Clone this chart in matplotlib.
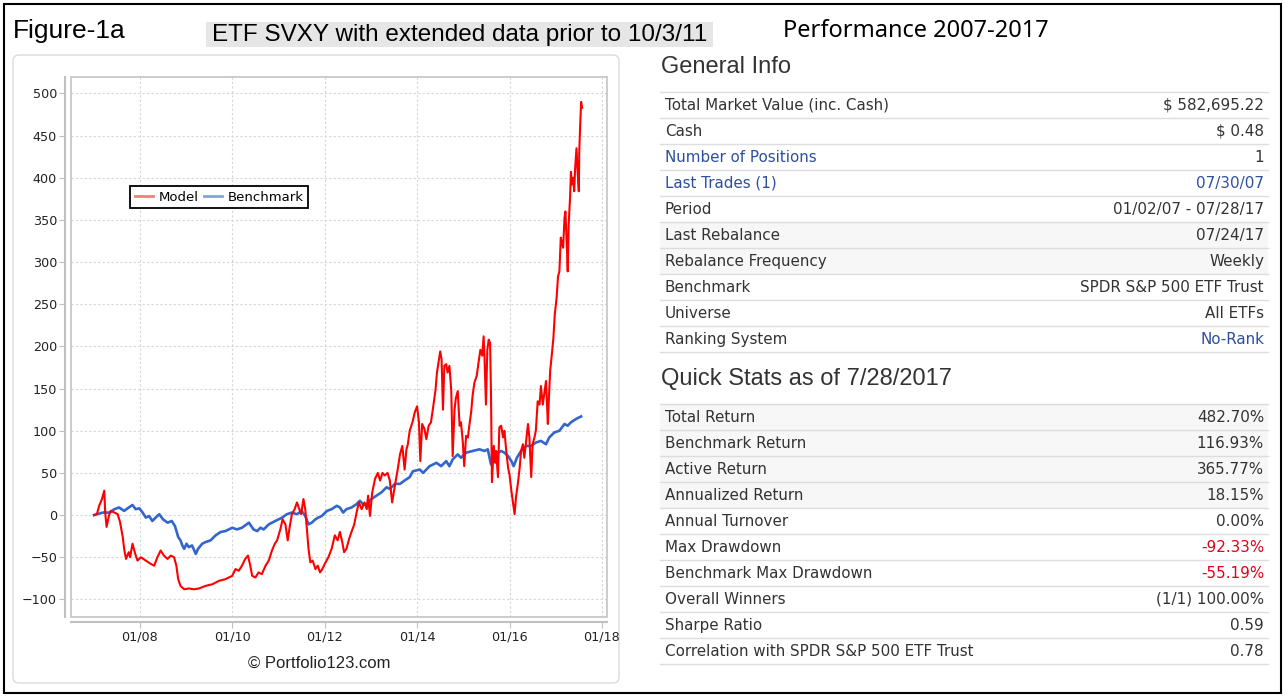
import matplotlib
matplotlib.use('Agg')
import matplotlib.pyplot as plt
from matplotlib.patches import Rectangle, FancyBboxPatch
from matplotlib.lines import Line2D

W, H = 1285, 698

#### data (decimal years, % return)
model_t = [2007.01, 2007.07, 2007.12, 2007.18, 2007.23, 2007.25, 2007.28, 2007.33, 2007.37, 2007.45,
           2007.52, 2007.57, 2007.63, 2007.66, 2007.70, 2007.76, 2007.79, 2007.84, 2007.90, 2007.95,
           2008.02, 2008.13, 2008.24, 2008.31, 2008.38, 2008.45, 2008.52, 2008.60, 2008.67, 2008.74,
           2008.79, 2008.83, 2008.88, 2008.96, 2009.06, 2009.17, 2009.28, 2009.42, 2009.57, 2009.71,
           2009.85, 2010.00, 2010.07, 2010.14, 2010.21, 2010.28, 2010.34, 2010.39, 2010.43, 2010.50,
           2010.57, 2010.64, 2010.72, 2010.79, 2010.86, 2010.92, 2010.97, 2011.04, 2011.09, 2011.15,
           2011.20, 2011.24, 2011.29, 2011.35, 2011.40, 2011.45, 2011.49, 2011.54, 2011.58, 2011.61,
           2011.65, 2011.69, 2011.74, 2011.80, 2011.85, 2011.90, 2011.95, 2012.00, 2012.08, 2012.15,
           2012.22, 2012.28, 2012.33, 2012.38, 2012.42, 2012.47, 2012.53, 2012.58, 2012.64, 2012.69,
           2012.74, 2012.80, 2012.86, 2012.91, 2012.94, 2012.98, 2013.03, 2013.09, 2013.15, 2013.20,
           2013.25, 2013.30, 2013.36, 2013.41, 2013.46, 2013.52, 2013.58, 2013.63, 2013.68, 2013.73,
           2013.77, 2013.80, 2013.84, 2013.90, 2013.95, 2014.00, 2014.04, 2014.07, 2014.11, 2014.16,
           2014.20, 2014.25, 2014.30, 2014.35, 2014.40, 2014.43, 2014.47, 2014.50, 2014.53, 2014.56,
           2014.59, 2014.63, 2014.66, 2014.70, 2014.74, 2014.77, 2014.81, 2014.84, 2014.88, 2014.92,
           2014.95, 2014.99, 2015.02, 2015.06, 2015.10, 2015.13, 2015.17, 2015.20, 2015.24, 2015.29,
           2015.33, 2015.37, 2015.41, 2015.44, 2015.46, 2015.49, 2015.52, 2015.55, 2015.58, 2015.60,
           2015.62, 2015.66, 2015.69, 2015.71, 2015.75, 2015.78, 2015.82, 2015.86, 2015.89, 2015.93,
           2015.97, 2016.00, 2016.04, 2016.07, 2016.11, 2016.14, 2016.18, 2016.22, 2016.25, 2016.29,
           2016.32, 2016.36, 2016.40, 2016.43, 2016.47, 2016.50, 2016.54, 2016.57, 2016.61, 2016.65,
           2016.68, 2016.72, 2016.75, 2016.79, 2016.83, 2016.85, 2016.88, 2016.91, 2016.95, 2016.98,
           2017.02, 2017.05, 2017.08, 2017.11, 2017.14, 2017.16, 2017.19, 2017.21, 2017.24, 2017.26,
           2017.28, 2017.31, 2017.33, 2017.35, 2017.38, 2017.40, 2017.42, 2017.45, 2017.47, 2017.50,
           2017.51, 2017.53, 2017.55, 2017.57]
model_v = [0, 1, 11, 19, 29, 3, -14, -1, 5, 3,
           1, -8, -26, -40, -52, -44, -50, -34, -46, -54,
           -50, -54, -58, -60, -50, -42, -48, -52, -48, -50,
           -60, -76, -84, -88, -87, -88, -87, -84, -82, -78,
           -76, -72, -64, -66, -60, -52, -48, -60, -72, -74,
           -68, -70, -60, -54, -42, -34, -30, -17, -5, -11,
           -30, -15, 1, 7, 15, 7, 1, 19, 7, -13,
           -40, -56, -54, -64, -60, -68, -64, -58, -50, -40,
           -24, -30, -20, -32, -44, -40, -28, -20, -11, 3,
           15, 7, 15, 7, 23, -1, 27, 43, 50, 41,
           50, 47, 50, 41, 15, 35, 54, 72, 82, 54,
           78, 84, 100, 110, 122, 129, 110, 64, 108, 102,
           90, 106, 110, 129, 149, 169, 183, 194, 185, 125,
           177, 179, 169, 177, 147, 70, 125, 139, 147, 106,
           110, 86, 58, 94, 92, 106, 122, 141, 157, 165,
           181, 196, 189, 212, 185, 131, 196, 208, 204, 141,
           39, 82, 62, 76, 45, 104, 106, 92, 100, 76,
           56, 48, 29, 17, 1, 21, 37, 56, 76, 84,
           68, 88, 108, 92, 45, 84, 92, 100, 135, 131,
           153, 131, 143, 159, 108, 135, 171, 187, 210, 238,
           258, 283, 289, 329, 321, 317, 352, 360, 321, 289,
           344, 376, 407, 392, 400, 384, 411, 435, 411, 384,
           431, 463, 490, 483]

bench_t = [2007.01, 2007.07, 2007.20, 2007.34, 2007.45, 2007.55, 2007.66, 2007.76, 2007.84, 2007.91,
           2007.99, 2008.06, 2008.13, 2008.20, 2008.27, 2008.34, 2008.42, 2008.50, 2008.60, 2008.69,
           2008.76, 2008.83, 2008.88, 2008.92, 2008.96, 2009.01, 2009.06, 2009.13, 2009.21, 2009.26,
           2009.35, 2009.42, 2009.53, 2009.64, 2009.75, 2009.85, 2010.00, 2010.10, 2010.21, 2010.36,
           2010.46, 2010.54, 2010.61, 2010.68, 2010.79, 2010.93, 2011.08, 2011.18, 2011.29, 2011.40,
           2011.50, 2011.58, 2011.65, 2011.72, 2011.80, 2011.86, 2011.94, 2012.05, 2012.15, 2012.26,
           2012.33, 2012.40, 2012.47, 2012.58, 2012.69, 2012.76, 2012.83, 2012.91, 2013.01, 2013.12,
           2013.23, 2013.34, 2013.41, 2013.52, 2013.63, 2013.73, 2013.84, 2013.91, 2014.06, 2014.13,
           2014.27, 2014.42, 2014.52, 2014.63, 2014.70, 2014.77, 2014.88, 2014.95, 2015.06, 2015.20,
           2015.35, 2015.46, 2015.53, 2015.60, 2015.67, 2015.74, 2015.82, 2015.89, 2015.97, 2016.04,
           2016.09, 2016.16, 2016.25, 2016.36, 2016.47, 2016.57, 2016.68, 2016.79, 2016.86, 2016.97,
           2017.08, 2017.19, 2017.26, 2017.33, 2017.44, 2017.55]
bench_v = [0, 1, 3, 3, 7, 9, 5, 9, 12, 7,
           8, 3, -3, -1, -7, -3, 1, -5, -9, -7,
           -13, -26, -30, -36, -40, -34, -38, -36, -46, -40,
           -34, -32, -30, -24, -20, -19, -15, -17, -15, -9,
           -17, -19, -15, -17, -11, -7, -3, 1, 3, 1,
           5, -1, -11, -9, -5, -3, -1, 5, 7, 11,
           9, 3, 7, 9, 13, 17, 13, 13, 19, 23,
           27, 33, 31, 37, 37, 41, 45, 52, 54, 50,
           58, 62, 58, 64, 58, 66, 72, 68, 74, 76,
           78, 76, 78, 60, 70, 74, 76, 74, 70, 64,
           58, 68, 76, 82, 82, 86, 88, 84, 92, 98,
           100, 108, 106, 110, 114, 117]

x_ticks = [2008, 2010, 2012, 2014, 2016, 2018]
x_tick_labels = ['01/08', '01/10', '01/12', '01/14', '01/16', '01/18']
y_ticks = [-100, -50, 0, 50, 100, 150, 200, 250, 300, 350, 400, 450, 500]

info_labels = ['Total Market Value (inc. Cash)', 'Cash', 'Number of Positions', 'Last Trades (1)',
               'Period', 'Last Rebalance', 'Rebalance Frequency', 'Benchmark', 'Universe', 'Ranking System']
info_values = ['$ 582,695.22', '$ 0.48', '1', '07/30/07', '01/02/07 - 07/28/17', '07/24/17',
               'Weekly', 'SPDR S&P 500 ETF Trust', 'All ETFs', 'No-Rank']
stats_labels = ['Total Return', 'Benchmark Return', 'Active Return', 'Annualized Return', 'Annual Turnover',
                'Max Drawdown', 'Benchmark Max Drawdown', 'Overall Winners', 'Sharpe Ratio',
                'Correlation with SPDR S&P 500 ETF Trust']
stats_values = ['482.70%', '116.93%', '365.77%', '18.15%', '0.00%', '-92.33%', '-55.19%',
                '(1/1) 100.00%', '0.59', '0.78']

#### styles
TXT = '#333333'
LINK = '#2d4f9e'
NEG = '#e0001b'
info_label_link = [2, 3]
info_value_link = [3, 9]
info_shaded = [5, 6]
stats_value_neg = [5, 6]
stats_shaded = [0, 1, 2, 3]

fig = plt.figure(figsize=(W / 100, H / 100), dpi=100)
bg = fig.add_axes([0, 0, 1, 1])
bg.set_xlim(0, W)
bg.set_ylim(H, 0)
bg.axis('off')

# outer border and chart panel
bg.add_patch(Rectangle((4, 4), 1277, 689, fill=False, ec='black', lw=1.5))
bg.add_patch(FancyBboxPatch((13, 55), 606, 628, boxstyle='round,pad=0,rounding_size=6',
                            fc='white', ec='#dcdcdc', lw=1))

# header
bg.text(13, 31, 'Figure-1a', fontsize=19, family='Liberation Sans', va='center', ha='left', color='black')
bg.add_patch(Rectangle((206, 22), 507, 25, fc='#e6e6e6', ec='none'))
bg.text(212, 35, 'ETF SVXY with extended data prior to 10/3/11', fontsize=17.5, family='Liberation Sans',
        va='center', ha='left', color='black')
bg.text(783, 31, 'Performance 2007-2017', fontsize=17, family='Noto Sans', va='center', ha='left',
        color='black')


def draw_table(title, title_y, top, labels, values, shaded, label_link, value_link, value_neg):
    bg.text(661, title_y, title, fontsize=17, family='Liberation Sans', va='center', ha='left', color=TXT)
    rh = 26
    for i, (lab, val) in enumerate(zip(labels, values)):
        y0 = top + i * rh
        if i in shaded:
            bg.add_patch(Rectangle((660, y0), 608, rh, fc='#f7f7f7', ec='none'))
        lc = LINK if i in label_link else TXT
        vc = LINK if i in value_link else (NEG if i in value_neg else TXT)
        bg.text(665, y0 + rh / 2 + 0.5, lab, fontsize=10.9, family='DejaVu Sans', va='center', ha='left', color=lc)
        bg.text(1264, y0 + rh / 2 + 0.5, val, fontsize=10.9, family='DejaVu Sans', va='center', ha='right', color=vc)
    for i in range(len(labels) + 1):
        bg.plot([660, 1268], [top + i * rh, top + i * rh], color='#dddddd', lw=1)


draw_table('General Info', 67, 92, info_labels, info_values, info_shaded, info_label_link, info_value_link, [])
draw_table('Quick Stats as of 7/28/2017', 379, 404, stats_labels, stats_values, stats_shaded, [], [],
           stats_value_neg)

bg.text(319, 663, '\u00a9 Portfolio123.com', fontsize=12, family='Liberation Sans', va='center', ha='center',
        color='#222222')

#### chart
left, right, top, bottom = 71, 607, 77, 616.7
ax = fig.add_axes([left / W, 1 - bottom / H, (right - left) / W, (bottom - top) / H])
ax.plot(bench_t, bench_v, color='#3366cc', lw=1.9, zorder=3)
ax.plot(model_t, model_v, color='#ff0000', lw=1.5, zorder=4)
ax.set_xlim(2006.51, 2018.11)
ax.set_ylim(-120.5, 519.5)
ax.set_xticks(x_ticks)
ax.set_xticklabels(x_tick_labels)
ax.set_yticks(y_ticks)
ax.grid(True, color='#d6d6d6', linestyle=(0, (2, 2)), lw=0.8)
ax.set_axisbelow(True)
for s in ['top', 'right']:
    ax.spines[s].set_visible(False)
for s in ['left', 'bottom']:
    ax.spines[s].set_position(('outward', 4))
    ax.spines[s].set_color('#c0c0c0')
    ax.spines[s].set_linewidth(1.5)
ax.add_patch(Rectangle((0, 0), 1, 1, transform=ax.transAxes, fill=False, ec='#c8c8c8', lw=1.3,
                       clip_on=False, zorder=5))
ax.tick_params(length=4, color='#c0c0c0', labelcolor='#222222', labelsize=9.2, pad=2)

handles = [Line2D([], [], color='#ff7b7b', lw=2), Line2D([], [], color='#86a3e0', lw=2)]
leg = ax.legend(handles, ['Model', 'Benchmark'], loc='upper left', bbox_to_anchor=(0.110, 0.798),
                borderaxespad=0, ncol=2, fontsize=9.5, handlelength=1.4, handletextpad=0.4,
                columnspacing=0.4, borderpad=0.35, fancybox=False, framealpha=1)
leg.get_frame().set_edgecolor('black')
leg.get_frame().set_linewidth(1.3)

fig.savefig('out.png', dpi=100)
